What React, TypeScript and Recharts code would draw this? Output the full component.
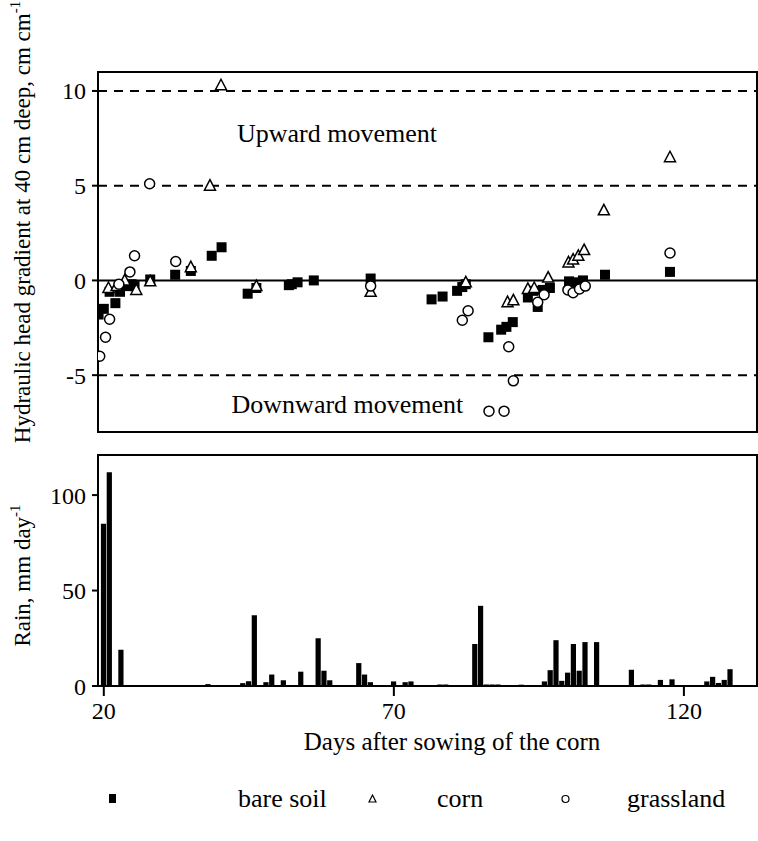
import React from "react";
import {
  ComposedChart,
  BarChart,
  Bar,
  Scatter,
  XAxis,
  YAxis,
  ReferenceLine,
  ReferenceArea,
  ReferenceDot,
  Legend,
} from "recharts";

const FONT = '"Liberation Serif", "Times New Roman", serif';

// hydraulic head gradient at 40 cm
const bareDays = [19.1, 20.0, 21.0, 22.0, 22.8, 23.9, 24.8, 25.3, 28.0, 32.3, 35.0, 38.6, 40.3, 44.8, 46.3, 51.9, 52.4, 53.4, 56.2, 66.0, 76.5, 78.4, 80.9, 81.8, 82.4, 86.3, 88.5, 89.4, 90.5, 93.1, 94.0, 94.8, 95.7, 96.9, 100.2, 101.0, 101.8, 102.6, 106.4, 117.6];
const bareHead = [-1.8, -1.5, -0.6, -1.2, -0.6, -0.3, -0.2, -0.3, 0.05, 0.3, 0.5, 1.3, 1.75, -0.7, -0.4, -0.25, -0.2, -0.1, 0, 0.1, -1.0, -0.85, -0.55, -0.35, -0.2, -3.0, -2.6, -2.45, -2.2, -0.9, -0.55, -1.4, -0.5, -0.4, -0.05, -0.15, -0.1, 0, 0.3, 0.45];

const cornDays = [20.8, 22.2, 23.6, 25.6, 28.0, 35.0, 38.3, 40.2, 46.3, 66.0, 82.4, 89.6, 90.6, 93.1, 94.2, 96.6, 100.1, 100.9, 101.8, 102.8, 106.2, 117.6];
const cornHead = [-0.4, -0.3, 0, -0.5, -0.05, 0.7, 5.0, 10.3, -0.3, -0.6, -0.1, -1.15, -1.05, -0.45, -0.4, 0.15, 0.95, 1.1, 1.3, 1.6, 3.7, 6.5];

const grassDays = [19.3, 20.3, 21.0, 22.6, 24.5, 25.3, 27.9, 32.4, 66.0, 81.8, 82.8, 86.4, 89.0, 89.8, 90.6, 94.8, 95.9, 100.0, 100.9, 102.0, 103.0, 117.6];
const grassHead = [-4.0, -3.0, -2.05, -0.2, 0.45, 1.3, 5.1, 1.0, -0.3, -2.1, -1.6, -6.9, -6.9, -3.5, -5.3, -1.15, -0.75, -0.5, -0.65, -0.45, -0.3, 1.45];

// daily rain, mm
const rainDays = [20, 21, 23, 34, 38, 44, 45, 46, 48, 49, 51, 54, 57, 58, 59, 62, 64, 65, 66, 70, 72, 73, 78, 79, 82, 83, 84, 85, 86, 87, 88, 92, 95, 96, 97, 98, 99, 100, 101, 102, 103, 105, 106, 109, 111, 113, 114, 116, 118, 119, 124, 125, 126, 127, 128, 129, 130];
const rainMm = [85, 112, 19, 0.5, 1, 1.5, 2.5, 37, 2, 6, 3, 7.5, 25, 8, 3, 0.5, 12, 6, 2, 2.4, 2, 2.4, 0.8, 0.8, 0.5, 0.5, 22, 42, 0.8, 0.8, 0.8, 0.7, 0.5, 2.4, 8.3, 24, 2.7, 7, 22, 8, 23, 23, 0.5, 0.5, 8.5, 0.8, 0.8, 3.2, 3.5, 0.5, 2.4, 4.8, 1.6, 3.2, 8.8, 0.5, 0.5];

const dayDomain = [19, 132.6];
const headDomain = [-8, 11];
const rainDomain = [0, 121];
const headTicks = [-5, 0, 5, 10];
const rainTicks = [0, 50, 100];
const dayTicks = [20, 70, 120];
const topDayTicks = [46, 90];

const toPoints = (days: number[], vals: number[]) => days.map((d, i) => ({ day: d, head: vals[i] }));
const bare = toPoints(bareDays, bareHead);
const corn = toPoints(cornDays, cornHead);
const grass = toPoints(grassDays, grassHead);
const rain = rainDays.map((d, i) => ({ day: d, rain: rainMm[i] }));

const Square = (p: any) => <rect x={p.cx - 5} y={p.cy - 5} width={10} height={10} fill="#000" />;
const Triangle = (p: any) => (
  <polygon
    points={`${p.cx},${p.cy - 6} ${p.cx + 5.5},${p.cy + 4.5} ${p.cx - 5.5},${p.cy + 4.5}`}
    fill="#fff"
    stroke="#000"
    strokeWidth={1.5}
  />
);
const Circle = (p: any) => <circle cx={p.cx} cy={p.cy} r={5} fill="#fff" stroke="#000" strokeWidth={1.5} />;

const legendMarks: Record<string, { x: number; label: number; mark: React.ReactNode }> = {
  "bare soil": { x: 113, label: 238, mark: <rect x={1} y={1} width={7} height={9} fill="#000" /> },
  corn: { x: 373, label: 437, mark: <polygon points="4.5,2 8,9 1,9" fill="none" stroke="#000" strokeWidth={1.2} /> },
  grassland: { x: 566, label: 627, mark: <circle cx={4.5} cy={6} r={3.5} fill="none" stroke="#000" strokeWidth={1.2} /> },
};

function SeriesLegend({ payload }: any) {
  return (
    <div style={{ position: "relative", width: 758, height: 32, fontFamily: FONT, fontSize: 26 }}>
      {(payload || []).map((e: any) => {
        const m = legendMarks[e.value];
        if (!m) return null;
        return (
          <React.Fragment key={e.value}>
            <svg width={10} height={12} style={{ position: "absolute", left: m.x - 5, top: 8 }}>
              {m.mark}
            </svg>
            <span style={{ position: "absolute", left: m.label, top: 0, lineHeight: "28px" }}>{e.value}</span>
          </React.Fragment>
        );
      })}
    </div>
  );
}

function HeadTitle(props: any) {
  const vb = props.viewBox || { y: 0, height: 0 };
  const cy = vb.y + vb.height / 2 - 30;
  return (
    <text transform={`translate(30, ${cy}) rotate(-90)`} textAnchor="middle" fontSize={23} fontFamily={FONT} fill="#000">
      Hydraulic head gradient at 40 cm deep, cm cm
      <tspan fontSize={15} dy={-10}>-1</tspan>
    </text>
  );
}

function RainTitle(props: any) {
  const vb = props.viewBox || { y: 0, height: 0 };
  const cy = vb.y + vb.height / 2 + 5;
  return (
    <text transform={`translate(30, ${cy}) rotate(-90)`} textAnchor="middle" fontSize={23} fontFamily={FONT} fill="#000">
      Rain, mm day
      <tspan fontSize={15} dy={-10}>-1</tspan>
    </text>
  );
}

function DayTitle(props: any) {
  const vb = props.viewBox || { y: 0 };
  return (
    <text x={452} y={vb.y + 64} textAnchor="middle" fontSize={25} fontFamily={FONT} fill="#000">
      Days after sowing of the corn
    </text>
  );
}

const tickStyle = { fontSize: 24, fontFamily: FONT, fill: "#000" };
const axisLine = { stroke: "#000", strokeWidth: 2 };
const inPlotLabel = { position: "center" as const, fontSize: 26, fontFamily: FONT, fill: "#000" };

export default function App() {
  return (
    <div style={{ position: "absolute", left: 0, top: 0, width: 758, height: 841, background: "#fff", fontFamily: FONT }}>
      <ComposedChart width={758} height={445} margin={{ top: 72, right: 1, bottom: 0, left: 0 }}>
        <XAxis
          type="number"
          dataKey="day"
          domain={dayDomain}
          ticks={topDayTicks}
          tick={false}
          tickSize={10}
          height={13}
          axisLine={axisLine}
          tickLine={axisLine}
          allowDataOverflow
        />
        <YAxis
          type="number"
          dataKey="head"
          domain={headDomain}
          ticks={headTicks}
          width={98}
          tickSize={6}
          tickMargin={6}
          tick={tickStyle}
          axisLine={axisLine}
          tickLine={axisLine}
          allowDataOverflow
          label={<HeadTitle />}
        />
        <ReferenceArea x1={dayDomain[0]} x2={dayDomain[1]} y1={headDomain[0]} y2={headDomain[1]} fill="none" stroke="#000" strokeWidth={2} />
        <ReferenceLine y={10} stroke="#000" strokeWidth={2} strokeDasharray="9 7" />
        <ReferenceLine y={5} stroke="#000" strokeWidth={2} strokeDasharray="9 7" />
        <ReferenceLine y={0} stroke="#000" strokeWidth={2} />
        <ReferenceLine y={-5} stroke="#000" strokeWidth={2} strokeDasharray="9 7" />
        <ReferenceDot x={60.2} y={7.8} r={0} fill="none" stroke="none" label={{ value: "Upward movement", ...inPlotLabel }} />
        <ReferenceDot x={62} y={-6.5} r={0} fill="none" stroke="none" label={{ value: "Downward movement", ...inPlotLabel }} />
        <Scatter name="bare soil" data={bare} shape={Square} isAnimationActive={false} />
        <Scatter name="corn" data={corn} shape={Triangle} isAnimationActive={false} />
        <Scatter name="grassland" data={grass} shape={Circle} isAnimationActive={false} />
        <Legend
          layout="horizontal"
          verticalAlign="middle"
          align="center"
          content={<SeriesLegend />}
          wrapperStyle={{ position: "absolute", top: 785, left: 0, width: 758 }}
        />
      </ComposedChart>
      <BarChart width={758} height={396} data={rain} margin={{ top: 10, right: 1, bottom: 0, left: 0 }} barCategoryGap={0}>
        <XAxis
          type="number"
          dataKey="day"
          domain={dayDomain}
          ticks={dayTicks}
          tickSize={10}
          tickMargin={6}
          height={155}
          tick={tickStyle}
          axisLine={axisLine}
          tickLine={axisLine}
          label={<DayTitle />}
        />
        <YAxis
          type="number"
          domain={rainDomain}
          ticks={rainTicks}
          width={98}
          tickSize={6}
          tickMargin={6}
          tick={tickStyle}
          axisLine={axisLine}
          tickLine={axisLine}
          label={<RainTitle />}
        />
        <ReferenceArea x1={dayDomain[0]} x2={dayDomain[1]} y1={rainDomain[0]} y2={rainDomain[1]} fill="none" stroke="#000" strokeWidth={2} />
        <Bar dataKey="rain" fill="#000" barSize={6} isAnimationActive={false} />
      </BarChart>
    </div>
  );
}
